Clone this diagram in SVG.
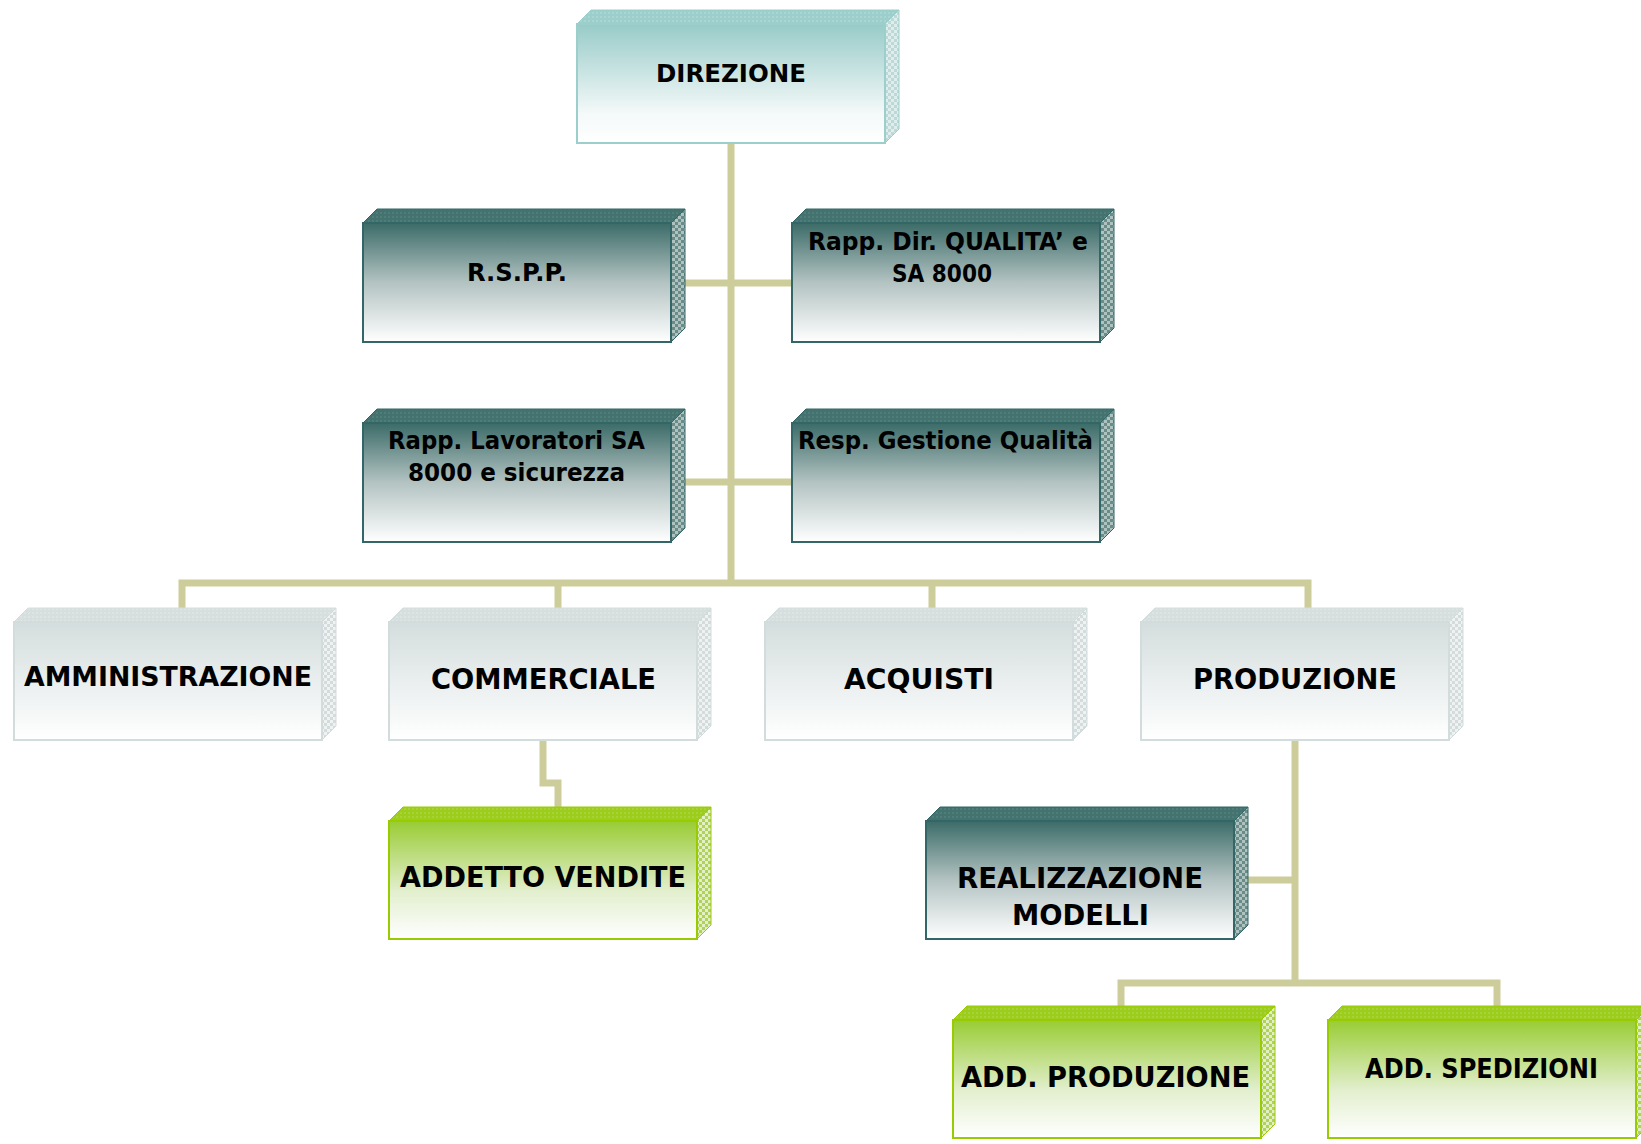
<svg xmlns="http://www.w3.org/2000/svg" width="1641" height="1144" viewBox="0 0 1641 1144">
<style>
  .conn { fill: none; stroke: #cdcd9b; stroke-width: 7; stroke-linejoin: miter; stroke-linecap: butt; }
  text { font-family: "DejaVu Sans", Verdana, "Liberation Sans", sans-serif; font-weight: bold; fill: #000; text-anchor: middle; }
  .teal .front { fill: url(#gTeal); stroke: #9ccfcb; stroke-width: 2; }
  .teal .top { fill: url(#pTealTop); stroke: #9ccfcb; stroke-width: 1; }
  .teal .side { fill: url(#pTealSide); stroke: #9ccfcb; stroke-width: 1; }
  .dark .front { fill: url(#gDark); stroke: #336666; stroke-width: 2; }
  .dark .top { fill: url(#pDarkTop); stroke: #336666; stroke-width: 1; }
  .dark .side { fill: url(#pDarkSide); stroke: #336666; stroke-width: 1; }
  .grey .front { fill: url(#gGrey); stroke: #d3dcdc; stroke-width: 2; }
  .grey .top { fill: url(#pGreyTop); stroke: #d3dcdc; stroke-width: 1; }
  .grey .side { fill: url(#pGreySide); stroke: #d3dcdc; stroke-width: 1; }
  .green .front { fill: url(#gGreen); stroke: #99cc00; stroke-width: 2; }
  .green .top { fill: url(#pGreenTop); stroke: #99cc00; stroke-width: 1; }
  .green .side { fill: url(#pGreenSide); stroke: #99cc00; stroke-width: 1; }
</style>
<defs>
  <linearGradient id="gTeal" x1="0" y1="0" x2="0" y2="1">
    <stop offset="0" stop-color="#97cbc8"/>
    <stop offset="0.75" stop-color="#f4f9f9"/>
    <stop offset="1" stop-color="#ffffff"/>
  </linearGradient>
  <linearGradient id="gDark" x1="0" y1="0" x2="0" y2="1">
    <stop offset="0" stop-color="#3b6b68"/>
    <stop offset="0.5" stop-color="#b3c3c2"/>
    <stop offset="1" stop-color="#ffffff"/>
  </linearGradient>
  <linearGradient id="gGrey" x1="0" y1="0" x2="0" y2="1">
    <stop offset="0" stop-color="#d4dddd"/>
    <stop offset="1" stop-color="#ffffff"/>
  </linearGradient>
  <linearGradient id="gGreen" x1="0" y1="0" x2="0" y2="1">
    <stop offset="0" stop-color="#99cc33"/>
    <stop offset="0.6" stop-color="#e3efcf"/>
    <stop offset="1" stop-color="#ffffff"/>
  </linearGradient>
  <pattern id="pTealTop" width="4" height="4" patternUnits="userSpaceOnUse">
    <rect width="4" height="4" fill="#9ccfcb"/><rect width="2" height="2" fill="#a9d6d2"/>
  </pattern>
  <pattern id="pTealSide" width="6" height="6" patternUnits="userSpaceOnUse">
    <rect width="6" height="6" fill="#bcd9d7"/><rect width="3" height="3" fill="#dfeeed"/><rect x="3" y="3" width="3" height="3" fill="#dfeeed"/>
  </pattern>
  <pattern id="pDarkTop" width="4" height="4" patternUnits="userSpaceOnUse">
    <rect width="4" height="4" fill="#43726f"/><rect width="2" height="2" fill="#4f7d7a"/>
  </pattern>
  <pattern id="pDarkSide" width="6" height="6" patternUnits="userSpaceOnUse">
    <rect width="6" height="6" fill="#6a8c89"/><rect width="3" height="3" fill="#aec2c0"/><rect x="3" y="3" width="3" height="3" fill="#aec2c0"/>
  </pattern>
  <pattern id="pGreyTop" width="4" height="4" patternUnits="userSpaceOnUse">
    <rect width="4" height="4" fill="#d6dede"/><rect width="2" height="2" fill="#dde4e4"/>
  </pattern>
  <pattern id="pGreySide" width="6" height="6" patternUnits="userSpaceOnUse">
    <rect width="6" height="6" fill="#d3dbdb"/><rect width="3" height="3" fill="#eef2f2"/><rect x="3" y="3" width="3" height="3" fill="#eef2f2"/>
  </pattern>
  <pattern id="pGreenTop" width="4" height="4" patternUnits="userSpaceOnUse">
    <rect width="4" height="4" fill="#9ccc1c"/><rect width="2" height="2" fill="#a8d23a"/>
  </pattern>
  <pattern id="pGreenSide" width="6" height="6" patternUnits="userSpaceOnUse">
    <rect width="6" height="6" fill="#b0d15a"/><rect width="3" height="3" fill="#e3efc6"/><rect x="3" y="3" width="3" height="3" fill="#e3efc6"/>
  </pattern>
</defs>

<g id="connectors">
  <path class="conn" d="M731,143 V583"/>
  <path class="conn" d="M672,283 H792"/>
  <path class="conn" d="M672,482 H792"/>
  <path class="conn" d="M182,615 V583 H1308 V615"/>
  <path class="conn" d="M558,583 V615"/>
  <path class="conn" d="M932,583 V615"/>
  <path class="conn" d="M543,741 V783 H558 V815"/>
  <path class="conn" d="M1295,741 V983"/>
  <path class="conn" d="M1234,880 H1295"/>
  <path class="conn" d="M1121,1013 V983 H1497 V1013"/>
</g>

<g id="direzione" class="teal">
  <polygon class="top" points="577,24 591,10 899,10 885,24"/>
  <polygon class="side" points="885,24 899,10 899,129 885,143"/>
  <rect class="front" x="577" y="24" width="308" height="119"/>
  <text x="731" y="82" font-size="25" textLength="150" lengthAdjust="spacingAndGlyphs">DIREZIONE</text>
</g>

<g id="rspp" class="dark">
  <polygon class="top" points="363,223 377,209 685,209 671,223"/>
  <polygon class="side" points="671,223 685,209 685,328 671,342"/>
  <rect class="front" x="363" y="223" width="308" height="119"/>
  <text x="517" y="281" font-size="25" textLength="100" lengthAdjust="spacingAndGlyphs">R.S.P.P.</text>
</g>

<g id="rapp-dir-qualita" class="dark">
  <polygon class="top" points="792,223 806,209 1114,209 1100,223"/>
  <polygon class="side" points="1100,223 1114,209 1114,328 1100,342"/>
  <rect class="front" x="792" y="223" width="308" height="119"/>
  <text x="948" y="250" font-size="25" textLength="280" lengthAdjust="spacingAndGlyphs">Rapp. Dir. QUALITA’ e</text>
  <text x="942" y="282" font-size="25" textLength="100" lengthAdjust="spacingAndGlyphs">SA 8000</text>
</g>

<g id="rapp-lavoratori" class="dark">
  <polygon class="top" points="363,423 377,409 685,409 671,423"/>
  <polygon class="side" points="671,423 685,409 685,528 671,542"/>
  <rect class="front" x="363" y="423" width="308" height="119"/>
  <text x="516.5" y="449" font-size="25" textLength="257" lengthAdjust="spacingAndGlyphs">Rapp. Lavoratori SA</text>
  <text x="516.5" y="481" font-size="25" textLength="217" lengthAdjust="spacingAndGlyphs">8000 e sicurezza</text>
</g>

<g id="resp-gestione-qualita" class="dark">
  <polygon class="top" points="792,423 806,409 1114,409 1100,423"/>
  <polygon class="side" points="1100,423 1114,409 1114,528 1100,542"/>
  <rect class="front" x="792" y="423" width="308" height="119"/>
  <text x="945.5" y="449" font-size="25" textLength="295" lengthAdjust="spacingAndGlyphs">Resp. Gestione Qualità</text>
</g>

<g id="amministrazione" class="grey">
  <polygon class="top" points="14,622 28,608 336,608 322,622"/>
  <polygon class="side" points="322,622 336,608 336,726 322,740"/>
  <rect class="front" x="14" y="622" width="308" height="118"/>
  <text x="168" y="686" font-size="26" textLength="288" lengthAdjust="spacingAndGlyphs">AMMINISTRAZIONE</text>
</g>

<g id="commerciale" class="grey">
  <polygon class="top" points="389,622 403,608 711,608 697,622"/>
  <polygon class="side" points="697,622 711,608 711,726 697,740"/>
  <rect class="front" x="389" y="622" width="308" height="118"/>
  <text x="543.5" y="689" font-size="29" textLength="225" lengthAdjust="spacingAndGlyphs">COMMERCIALE</text>
</g>

<g id="acquisti" class="grey">
  <polygon class="top" points="765,622 779,608 1087,608 1073,622"/>
  <polygon class="side" points="1073,622 1087,608 1087,726 1073,740"/>
  <rect class="front" x="765" y="622" width="308" height="118"/>
  <text x="919" y="689" font-size="29" textLength="150" lengthAdjust="spacingAndGlyphs">ACQUISTI</text>
</g>

<g id="produzione" class="grey">
  <polygon class="top" points="1141,622 1155,608 1463,608 1449,622"/>
  <polygon class="side" points="1449,622 1463,608 1463,726 1449,740"/>
  <rect class="front" x="1141" y="622" width="308" height="118"/>
  <text x="1295" y="689" font-size="29" textLength="204" lengthAdjust="spacingAndGlyphs">PRODUZIONE</text>
</g>

<g id="addetto-vendite" class="green">
  <polygon class="top" points="389,821 403,807 711,807 697,821"/>
  <polygon class="side" points="697,821 711,807 711,925 697,939"/>
  <rect class="front" x="389" y="821" width="308" height="118"/>
  <text x="543" y="887" font-size="28" textLength="286" lengthAdjust="spacingAndGlyphs">ADDETTO VENDITE</text>
</g>

<g id="realizzazione-modelli" class="dark">
  <polygon class="top" points="926,821 940,807 1248,807 1234,821"/>
  <polygon class="side" points="1234,821 1248,807 1248,925 1234,939"/>
  <rect class="front" x="926" y="821" width="308" height="118"/>
  <text x="1080" y="888" font-size="28" textLength="246" lengthAdjust="spacingAndGlyphs">REALIZZAZIONE</text>
  <text x="1080.5" y="925" font-size="28" textLength="137" lengthAdjust="spacingAndGlyphs">MODELLI</text>
</g>

<g id="add-produzione" class="green">
  <polygon class="top" points="953,1020 967,1006 1275,1006 1261,1020"/>
  <polygon class="side" points="1261,1020 1275,1006 1275,1124 1261,1138"/>
  <rect class="front" x="953" y="1020" width="308" height="118"/>
  <text x="1105.5" y="1087" font-size="28" textLength="289" lengthAdjust="spacingAndGlyphs">ADD. PRODUZIONE</text>
</g>

<g id="add-spedizioni" class="green">
  <polygon class="top" points="1328,1020 1342,1006 1650,1006 1636,1020"/>
  <polygon class="side" points="1636,1020 1650,1006 1650,1124 1636,1138"/>
  <rect class="front" x="1328" y="1020" width="308" height="118"/>
  <text x="1481.5" y="1078" font-size="27" textLength="233" lengthAdjust="spacingAndGlyphs">ADD. SPEDIZIONI</text>
</g>
</svg>
